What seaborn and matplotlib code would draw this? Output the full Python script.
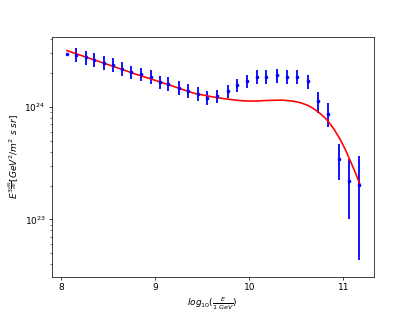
import numpy as np
import pandas as pd
import matplotlib
matplotlib.use("Agg")
import matplotlib.pyplot as plt
import seaborn as sns

# measured spectrum (flux in units of 1e24)
log_e = [8.06, 8.16, 8.26, 8.35, 8.45, 8.55, 8.65, 8.74, 8.85, 8.95,
         9.05, 9.14, 9.25, 9.35, 9.45, 9.55, 9.66, 9.77, 9.87, 9.97,
         10.08, 10.18, 10.29, 10.40, 10.51, 10.62, 10.73, 10.84, 10.95, 11.06, 11.17]
flux = [2.917, 2.904, 2.748, 2.624, 2.466, 2.355, 2.183, 2.042, 1.945, 1.841,
        1.663, 1.600, 1.472, 1.393, 1.303, 1.202, 1.242, 1.374, 1.552, 1.687,
        1.854, 1.854, 1.905, 1.841, 1.841, 1.675, 1.122, 0.867, 0.347, 0.221, 0.204]
flux_err = [0.0, 0.40, 0.38, 0.36, 0.34, 0.33, 0.30, 0.28, 0.27, 0.26,
            0.23, 0.22, 0.21, 0.19, 0.18, 0.17, 0.17, 0.19, 0.21, 0.23,
            0.25, 0.26, 0.27, 0.26, 0.26, 0.23, 0.24, 0.208, 0.124, 0.12, 0.16]

# fitted model curve (flux in units of 1e24)
fit_x = [8.06, 8.5, 8.8, 9.06, 9.235, 9.41, 9.55, 9.66, 9.77, 9.87, 9.96, 10.05,
         10.2, 10.35, 10.475, 10.55, 10.617, 10.67, 10.72, 10.775, 10.83, 10.90,
         10.97, 11.02, 11.078, 11.13, 11.173]
fit_y = [3.148, 2.361, 1.936, 1.652, 1.476, 1.318, 1.250, 1.202, 1.168, 1.140, 1.126,
         1.122, 1.138, 1.145, 1.118, 1.082, 1.032, 0.978, 0.914, 0.840, 0.757, 0.633,
         0.505, 0.418, 0.324, 0.257, 0.208]

scale = 1e24
data = pd.DataFrame({"x": log_e, "y": np.array(flux) * scale,
                     "err": np.array(flux_err) * scale})
fit = pd.DataFrame({"x": fit_x, "y": np.array(fit_y) * scale})

fig, ax = plt.subplots(figsize=(415 / 65, 311 / 65), dpi=65)

ax.errorbar(data["x"], data["y"], yerr=data["err"], fmt="o", color="b",
            ms=3, elinewidth=2, capsize=0)
sns.lineplot(data=fit, x="x", y="y", color="red", lw=1.8, ax=ax, sort=False)

ax.set_yscale("log")
ax.set_xlim(7.9, 11.32)
ax.set_ylim(3.1e22, 4.13e24)
ax.set_xticks([8, 9, 10, 11])
ax.set_xlabel(r"$log_{10}(\frac{E}{1\ GeV})$")
ax.set_ylabel(r"$E^{3\frac{dN}{dE}}[GeV^2/m^2\ s\ sr]$")

plt.savefig("out.png", dpi=65)
